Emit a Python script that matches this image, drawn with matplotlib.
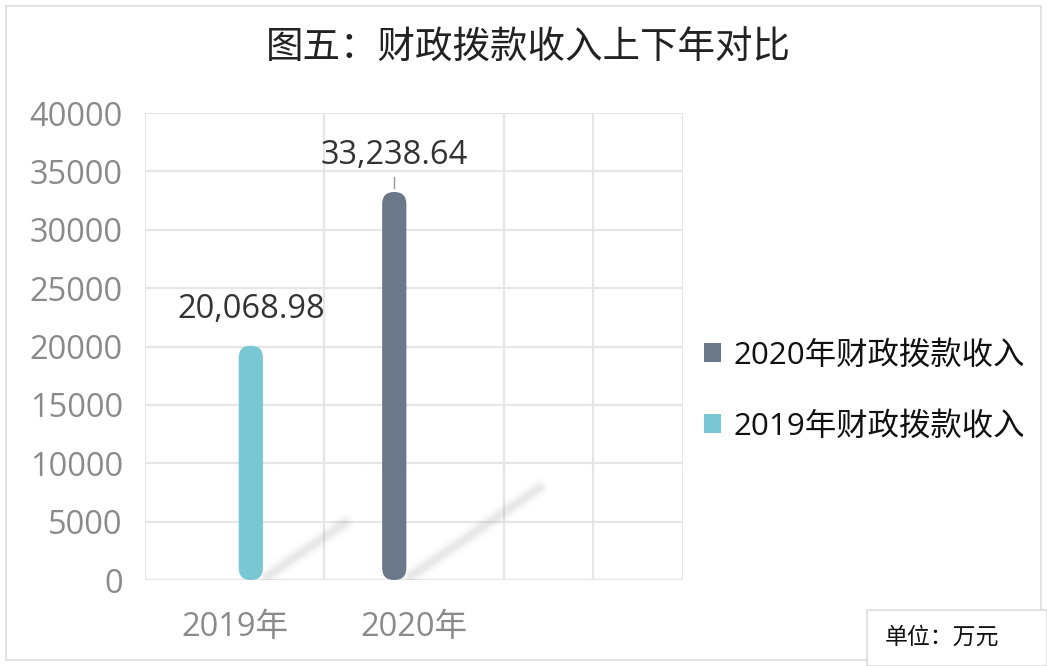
import matplotlib
matplotlib.use("Agg")
import matplotlib.pyplot as plt
from matplotlib.patches import FancyBboxPatch, Rectangle
import numpy as np

plt.rcParams['font.family'] = ['Open Sans', 'Noto Sans CJK SC', 'DejaVu Sans']

title = "图五：财政拨款收入上下年对比"
categories = ["2019年", "2020年"]
series_names = ["2020年财政拨款收入", "2019年财政拨款收入"]
series_values = [33238.64, 20068.98]
series_cat = [1, 0]
series_colors = ["#6A7889", "#79C7D4"]
series_offsets = [-0.11, 0.09]
label_texts = ["33,238.64", "20,068.98"]
yticks = [0, 5000, 10000, 15000, 20000, 25000, 30000, 35000, 40000]
unit_text = "单位：万元"

fig = plt.figure(figsize=(10.47, 6.66), dpi=100)
ax = fig.add_axes([0.1385, 0.1291, 0.5138, 0.7012])
ax.set_xlim(-0.5, 2.5)
ax.set_ylim(0, 40000)

for s in ax.spines.values():
    s.set_visible(False)
ax.set_yticks(yticks)
ax.set_yticklabels([str(v) for v in yticks])
ax.set_xticks(np.arange(-0.5, 2.51, 0.5), minor=True)
ax.set_xticks(range(len(categories)))
ax.set_xticklabels(categories)
ax.grid(True, which='minor', axis='x', color='#e6e6e6', lw=1.6)
ax.grid(True, which='major', axis='y', color='#e6e6e6', lw=1.6)
ax.set_axisbelow(True)
ax.tick_params(which='both', length=0)
ax.tick_params(axis='y', labelsize=23.5, labelcolor='#8a8a8a', pad=16)
ax.tick_params(axis='x', labelsize=23.5, labelcolor='#8a8a8a', pad=22)

# data units per pixel
ypp = 40000 / (0.7012 * 666)
xpp = 3.0 / (0.5138 * 1047)
aspect = ypp / xpp

bw = 0.135
for i, (name, v, c, col, off, lab) in enumerate(zip(series_names, series_values, series_cat,
                                                   series_colors, series_offsets, label_texts)):
    x = c + off
    bars = ax.bar(x, v, width=bw, color=col, label=name)
    p = bars[0]
    p.set_visible(False)
    x0, y0 = p.get_x(), p.get_y()
    w, h = p.get_width(), p.get_height()
    r = w / 2
    fb = FancyBboxPatch((x0, y0), w, h,
                        boxstyle=f"round,pad=0,rounding_size={r}",
                        mutation_aspect=aspect, fc=col, ec='none', zorder=3)
    ax.add_patch(fb)
    # blurred diagonal shadow
    sx0, sy0 = x + 0.09, 300
    dx = v / 33238.64 * 0.72
    dy = v / 33238.64 * 7600
    for lw, a in [(14, 0.025), (10, 0.04), (7, 0.05), (4, 0.07)]:
        ax.plot([sx0, sx0 + dx], [sy0, sy0 + dy], color='#808080', lw=lw, alpha=a,
                solid_capstyle='round', zorder=2)
    ax.annotate(lab, (x, v + 20 * ypp), ha='center', va='bottom',
                fontsize=23.5, color='#333333', zorder=4)
    if i == 0:
        ax.plot([x, x], [v + 300, v + 1300], color='#999999', lw=1, zorder=4)

leg_handles = [Rectangle((0, 0), 1, 1, fc=series_colors[0], ec='none'),
               Rectangle((0, 0), 1, 1, fc=series_colors[1], ec='none')]
fig.legend(leg_handles, series_names, loc='center left',
           bbox_to_anchor=(0.645, 0.413), frameon=False, fontsize=22.6,
           handlelength=0.55, handleheight=0.55, handletextpad=0.4,
           labelspacing=1.31, labelcolor='#111111')

fig.text(0.505, 0.927, title, ha='center', va='center', fontsize=27,
         color='#222222', family=['Noto Sans CJK SC', 'DejaVu Sans'], fontweight='light')

# unit box
fig.patches.append(Rectangle((867 / 1047, 0), 1 - 867 / 1047, 56 / 666,
                             transform=fig.transFigure, fc='white', ec='#dddddd',
                             lw=1.2, zorder=5))
fig.text(0.9, 0.043, unit_text, ha='center', va='center', fontsize=16.5,
         color='#111111', family=['Noto Sans CJK SC', 'DejaVu Sans'], zorder=6)

# outer border
fig.patches.append(Rectangle((6 / 1047, 6 / 666), 1 - 12 / 1047, 1 - 12 / 666,
                             transform=fig.transFigure, fc='none', ec='#dddddd',
                             lw=1.2, zorder=0))

fig.savefig("out.png", dpi=100)
